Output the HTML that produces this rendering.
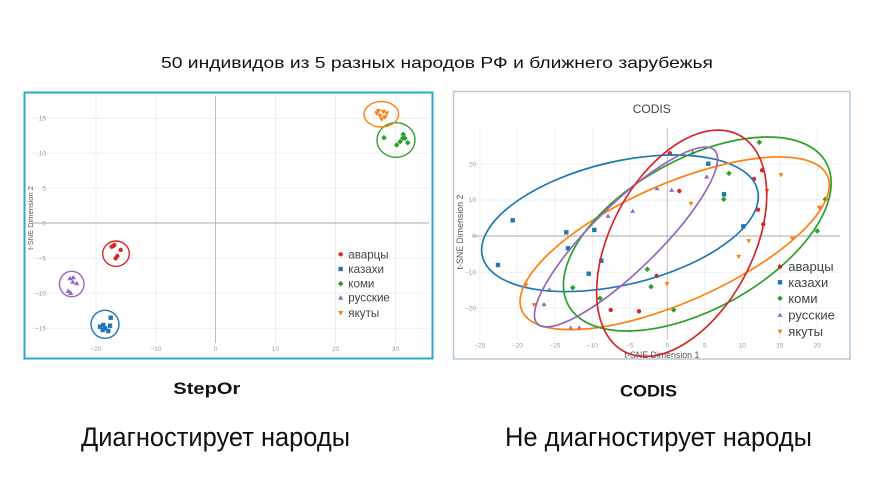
<!DOCTYPE html>
<html><head><meta charset="utf-8"><style>
html,body{margin:0;padding:0;background:#fff;}
svg{display:block;}
text{font-family:"Liberation Sans","DejaVu Sans",sans-serif;}
</style></head><body>
<svg width="872" height="498" viewBox="0 0 872 498" xmlns="http://www.w3.org/2000/svg">
<defs>
<circle id="lc" r="2.2"/>
<rect id="ls" x="-2.2" y="-2.2" width="4.4" height="4.4"/>
<path id="ld" d="M0,-2.8L2.8,0L0,2.8L-2.8,0Z"/>
<path id="lu" d="M0,-2.6L2.6,2L-2.6,2Z"/>
<path id="lv" d="M0,2.6L2.6,-2L-2.6,-2Z"/>
<circle id="rc" r="2.2"/>
<rect id="rs" x="-2.2" y="-2.2" width="4.4" height="4.4"/>
<path id="rd" d="M0,-2.8L2.8,0L0,2.8L-2.8,0Z"/>
<path id="ru" d="M0,-2.4L2.5,1.9L-2.5,1.9Z"/>
<path id="rv" d="M0,2.4L2.5,-1.9L-2.5,-1.9Z"/>
</defs>
<rect width="872" height="498" fill="#fff"/>

<!-- Title -->
<text x="161" y="68" font-size="16" fill="#111" textLength="552" lengthAdjust="spacingAndGlyphs">50 индивидов из 5 разных народов РФ и ближнего зарубежья</text>

<!-- LEFT CHART -->
<g>
<g stroke="#efefef" stroke-width="1">
<line x1="96" y1="96" x2="96" y2="343"/><line x1="156" y1="96" x2="156" y2="343"/>
<line x1="275.5" y1="96" x2="275.5" y2="343"/><line x1="335.5" y1="96" x2="335.5" y2="343"/>
<line x1="395.5" y1="96" x2="395.5" y2="343"/>
<line x1="32" y1="118.3" x2="429" y2="118.3"/><line x1="32" y1="153.3" x2="429" y2="153.3"/>
<line x1="32" y1="188.3" x2="429" y2="188.3"/><line x1="32" y1="258.3" x2="429" y2="258.3"/>
<line x1="32" y1="293.3" x2="429" y2="293.3"/><line x1="32" y1="328.3" x2="429" y2="328.3"/>
</g>
<line x1="215.5" y1="96" x2="215.5" y2="343" stroke="#bdbdbd" stroke-width="1"/>
<line x1="32" y1="223" x2="429" y2="223" stroke="#aaa" stroke-width="1"/>
<g font-size="6.5" fill="#999" text-anchor="end">
<text x="46" y="120.5">15</text><text x="46" y="155.5">10</text><text x="46" y="190.5">5</text>
<text x="46" y="225.5">0</text><text x="46" y="260.5">−5</text><text x="46" y="295.5">−10</text><text x="46" y="330.5">−15</text>
</g>
<g font-size="6.5" fill="#999" text-anchor="middle">
<text x="96" y="351">−20</text><text x="156" y="351">−10</text><text x="215.5" y="351">0</text>
<text x="275.5" y="351">10</text><text x="335.5" y="351">20</text><text x="395.5" y="351">30</text>
</g>
<text transform="translate(33,218) rotate(-90)" font-size="7.5" fill="#555" text-anchor="middle">t-SNE Dimension 2</text>

<g fill="none" stroke-width="1.4">
<ellipse cx="116" cy="253.7" rx="13.3" ry="12.7" stroke="#d62728"/>
<ellipse cx="105" cy="324.3" rx="14" ry="14" stroke="#1f77b4"/>
<ellipse cx="71.7" cy="284" rx="12.3" ry="12.7" stroke="#9467bd"/>
<ellipse cx="396" cy="140" rx="19" ry="17.3" stroke="#2ca02c"/>
<ellipse cx="381.3" cy="114.3" rx="17.3" ry="12.7" stroke="#ff7f0e"/>
</g>
<g fill="#d62728">
<use href="#lc" x="113.3" y="246"/><use href="#lc" x="111.7" y="246.7"/><use href="#lc" x="114.3" y="245"/>
<use href="#lc" x="120.7" y="250"/><use href="#lc" x="117.3" y="256"/><use href="#lc" x="115.7" y="258.3"/>
</g>
<g fill="#1f77b4">
<use href="#ls" x="100" y="326.7"/><use href="#ls" x="103.3" y="325"/><use href="#ls" x="105" y="328.3"/>
<use href="#ls" x="108.3" y="331"/><use href="#ls" x="110" y="325.7"/><use href="#ls" x="110.7" y="317.7"/><use href="#ls" x="102.7" y="330"/>
</g>
<g fill="#9467bd">
<use href="#lu" x="70" y="278.3"/><use href="#lu" x="73.3" y="277.3"/><use href="#lu" x="72.7" y="281.7"/>
<use href="#lu" x="76.7" y="283.3"/><use href="#lu" x="68.3" y="291"/><use href="#lu" x="70.7" y="293"/>
</g>
<g fill="#2ca02c">
<use href="#ld" x="384" y="137.7"/><use href="#ld" x="396.7" y="145"/><use href="#ld" x="400" y="141.7"/>
<use href="#ld" x="403.3" y="134.3"/><use href="#ld" x="405" y="138.3"/><use href="#ld" x="407.7" y="142.7"/><use href="#ld" x="402.7" y="138.3"/>
</g>
<g fill="#ff7f0e">
<use href="#lv" x="378.3" y="111"/><use href="#lv" x="383.3" y="111.7"/><use href="#lv" x="386.7" y="113.3"/>
<use href="#lv" x="380" y="115.7"/><use href="#lv" x="385" y="117.3"/><use href="#lv" x="381.7" y="119.3"/><use href="#lv" x="376.7" y="113.3"/>
</g>
<!-- left legend -->
<use href="#lc" x="340.7" y="254.3" fill="#d62728"/>
<use href="#ls" x="340.7" y="269" fill="#1f77b4"/>
<use href="#ld" x="340.7" y="283.7" fill="#2ca02c"/>
<use href="#lu" x="340.7" y="297.7" fill="#9467bd"/>
<use href="#lv" x="340.7" y="313" fill="#ff7f0e"/>
<g font-size="11.6" fill="#444">
<text x="348.3" y="258.3">аварцы</text><text x="348.3" y="273">казахи</text>
<text x="348.3" y="287.7">коми</text><text x="348.3" y="301.7">русские</text><text x="348.3" y="317">якуты</text>
</g>
<rect x="24.5" y="92.5" width="408" height="266" fill="none" stroke="#2aa9c9" stroke-width="2"/>
</g>

<!-- RIGHT CHART -->
<g>
<g stroke="#efefef" stroke-width="1">
<line x1="479.8" y1="128" x2="479.8" y2="340"/><line x1="517.3" y1="128" x2="517.3" y2="340"/>
<line x1="554.8" y1="128" x2="554.8" y2="340"/><line x1="592.3" y1="128" x2="592.3" y2="340"/>
<line x1="629.8" y1="128" x2="629.8" y2="340"/><line x1="704.8" y1="128" x2="704.8" y2="340"/>
<line x1="742.3" y1="128" x2="742.3" y2="340"/><line x1="779.8" y1="128" x2="779.8" y2="340"/>
<line x1="817.3" y1="128" x2="817.3" y2="340"/>
<line x1="472" y1="164.3" x2="840" y2="164.3"/><line x1="472" y1="200" x2="840" y2="200"/>
<line x1="472" y1="272.3" x2="840" y2="272.3"/><line x1="472" y1="308.3" x2="840" y2="308.3"/>
</g>
<line x1="667.3" y1="128" x2="667.3" y2="340" stroke="#bdbdbd" stroke-width="1"/>
<line x1="472" y1="236" x2="840" y2="236" stroke="#aaa" stroke-width="1"/>
<g font-size="6.5" fill="#999" text-anchor="end">
<text x="476" y="166.5">20</text><text x="476" y="202.2">10</text><text x="476" y="238.2">0</text>
<text x="476" y="274.5">−10</text><text x="476" y="310.5">−20</text>
</g>
<g font-size="6.5" fill="#999" text-anchor="middle">
<text x="479.8" y="347.3">−25</text><text x="517.3" y="347.3">−20</text><text x="554.8" y="347.3">−15</text>
<text x="592.3" y="347.3">−10</text><text x="629.8" y="347.3">−5</text><text x="667.3" y="347.3">0</text>
<text x="704.8" y="347.3">5</text><text x="742.3" y="347.3">10</text><text x="779.8" y="347.3">15</text><text x="817.3" y="347.3">20</text>
</g>
<text x="651.7" y="113" font-size="12" fill="#444" text-anchor="middle">CODIS</text>
<text transform="translate(463,232) rotate(-90)" font-size="8.8" fill="#555" text-anchor="middle">t-SNE Dimension 2</text>
<text x="662" y="358" font-size="8.8" fill="#555" text-anchor="middle">t-SNE Dimension 1</text>

<g fill="#d62728">
<use href="#rc" x="670" y="153.3"/><use href="#rc" x="679.3" y="191"/><use href="#rc" x="754" y="179"/>
<use href="#rc" x="762" y="170.3"/><use href="#rc" x="758" y="209.7"/><use href="#rc" x="763.3" y="224.3"/>
<use href="#rc" x="656.7" y="276"/><use href="#rc" x="610.7" y="310"/><use href="#rc" x="639" y="311.3"/>
</g>
<g fill="#1f77b4">
<use href="#rs" x="512.7" y="220.3"/><use href="#rs" x="498" y="265"/><use href="#rs" x="566.3" y="232.3"/>
<use href="#rs" x="568" y="248.3"/><use href="#rs" x="594.3" y="230"/><use href="#rs" x="601.3" y="260.7"/>
<use href="#rs" x="588.7" y="273.7"/><use href="#rs" x="708.3" y="163.7"/><use href="#rs" x="724" y="194.3"/>
<use href="#rs" x="743.3" y="226.3"/>
</g>
<g fill="#2ca02c">
<use href="#rd" x="759.3" y="142.3"/><use href="#rd" x="729" y="173.3"/><use href="#rd" x="723.7" y="199.3"/>
<use href="#rd" x="825.3" y="199.3"/><use href="#rd" x="817.3" y="231"/><use href="#rd" x="647.3" y="269.3"/>
<use href="#rd" x="651" y="286.7"/><use href="#rd" x="572.7" y="287.7"/><use href="#rd" x="600" y="298.3"/>
<use href="#rd" x="673.7" y="310"/>
</g>
<g fill="#9467bd">
<use href="#ru" x="692.7" y="152.3"/><use href="#ru" x="671.7" y="190"/><use href="#ru" x="657" y="188.3"/>
<use href="#ru" x="706.7" y="176.7"/><use href="#ru" x="632.7" y="211"/><use href="#ru" x="608" y="216"/>
<use href="#ru" x="549.3" y="289.7"/><use href="#ru" x="544" y="304.3"/><use href="#ru" x="570.7" y="327.7"/>
<use href="#ru" x="579.3" y="327.7"/>
</g>
<g fill="#ff7f0e">
<use href="#rv" x="781" y="175"/><use href="#rv" x="767" y="191"/><use href="#rv" x="691" y="203.7"/>
<use href="#rv" x="819.3" y="207.7"/><use href="#rv" x="748.7" y="241"/><use href="#rv" x="738.7" y="256.7"/>
<use href="#rv" x="792.3" y="238.7"/><use href="#rv" x="667" y="284"/><use href="#rv" x="526" y="285"/>
<use href="#rv" x="534" y="305"/>
</g>

<g fill="none" stroke-width="1.7">
<ellipse cx="0" cy="0" rx="141.5" ry="61.5" stroke="#1f77b4" transform="translate(620,223.3) rotate(-13.5)"/>
<ellipse cx="0" cy="0" rx="167" ry="59" stroke="#ff7f0e" transform="translate(674.7,243.3) rotate(-23.8)"/>
<ellipse cx="0" cy="0" rx="147.3" ry="75" stroke="#2ca02c" transform="translate(697.3,234) rotate(-29)"/>
<ellipse cx="0" cy="0" rx="124" ry="33" stroke="#9467bd" transform="translate(626,237) rotate(-44.4)"/>
<ellipse cx="0" cy="0" rx="122.5" ry="71" stroke="#d62728" transform="translate(681.7,243.3) rotate(-62)"/>
</g>

<!-- right legend -->
<use href="#rc" x="780" y="266.7" fill="#d62728"/>
<use href="#rs" x="780" y="282.3" fill="#1f77b4"/>
<use href="#rd" x="780" y="298.3" fill="#2ca02c"/>
<use href="#ru" x="780" y="315" fill="#9467bd"/>
<use href="#rv" x="780" y="331.7" fill="#ff7f0e"/>
<g font-size="13" fill="#444">
<text x="788.3" y="271.2">аварцы</text><text x="788.3" y="286.8">казахи</text>
<text x="788.3" y="302.8">коми</text><text x="788.3" y="319.5">русские</text><text x="788.3" y="336.2">якуты</text>
</g>
<rect x="453.5" y="91.5" width="396.5" height="267.5" fill="none" stroke="#b3c9d9" stroke-width="1.5"/>
</g>

<!-- Captions -->
<text x="173.3" y="394" font-size="17" font-weight="bold" fill="#111" textLength="67" lengthAdjust="spacingAndGlyphs">StepOr</text>
<text x="620" y="396.7" font-size="16.5" font-weight="bold" fill="#111" textLength="57" lengthAdjust="spacingAndGlyphs">CODIS</text>
<text x="81" y="446" font-size="27" fill="#111" textLength="269" lengthAdjust="spacingAndGlyphs">Диагностирует народы</text>
<text x="505" y="446" font-size="27" fill="#111" textLength="307" lengthAdjust="spacingAndGlyphs">Не диагностирует народы</text>
</svg>
</body></html>
